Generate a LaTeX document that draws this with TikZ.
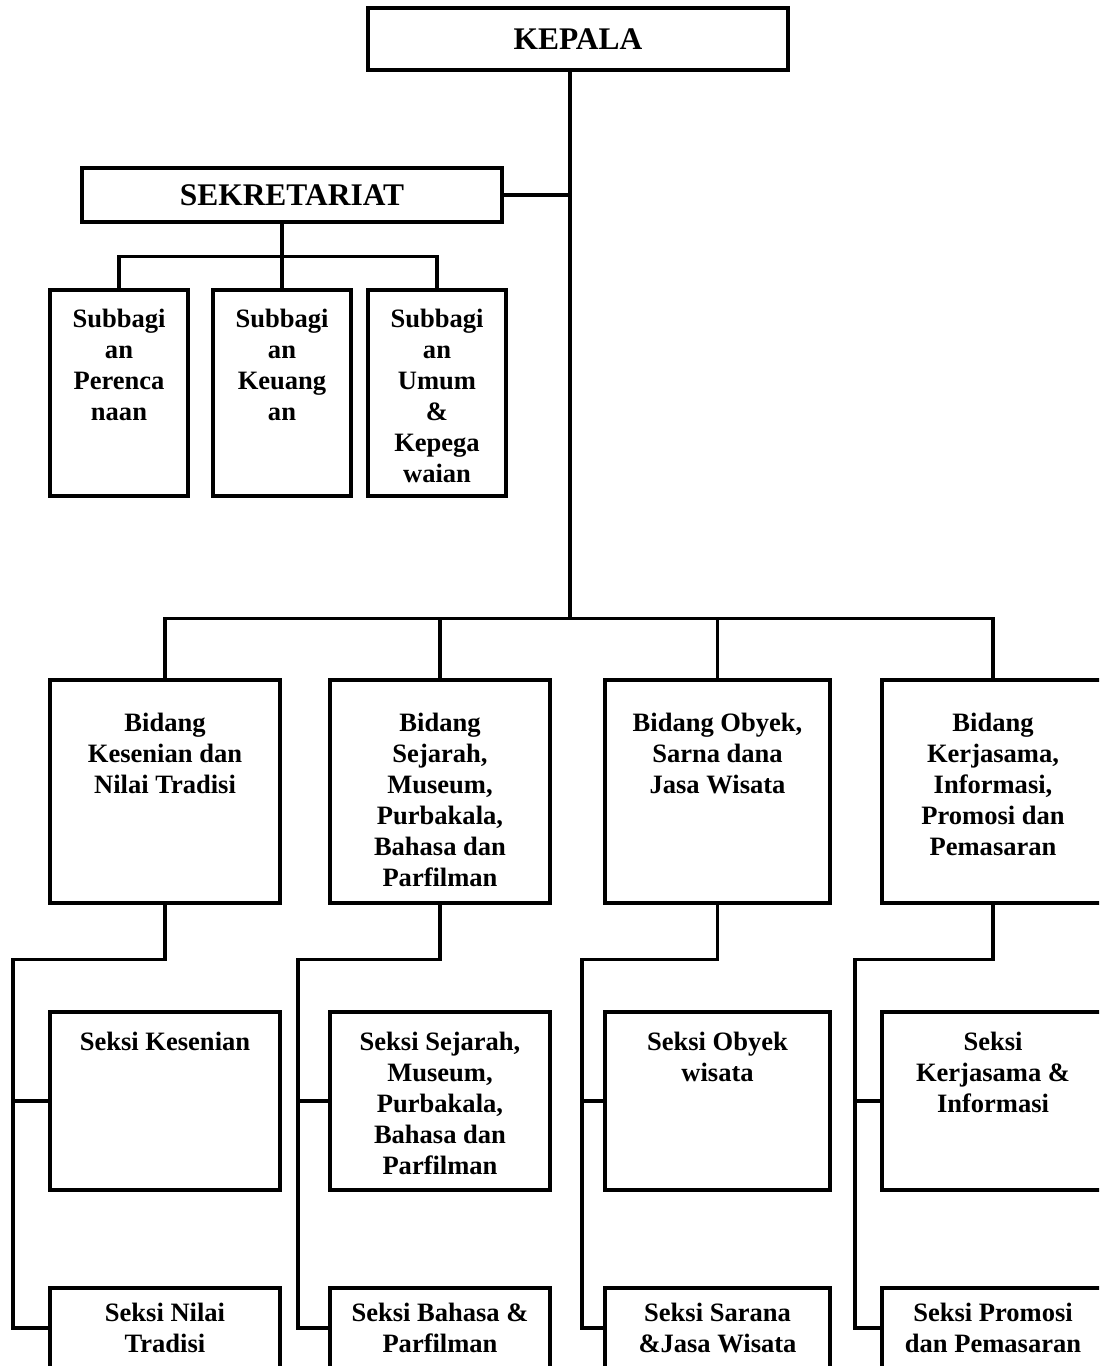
\documentclass[tikz,border=0pt]{standalone}
\usepackage{fontspec}
\setmainfont{Liberation Serif}
\usetikzlibrary{fit}
\begin{document}
\begin{tikzpicture}[x=0.75pt,y=-0.75pt,
  box/.style={draw, line width=2.3pt, inner sep=0pt, rectangle},
  head/.style={font=\bfseries\fontsize{23.6}{28}\selectfont},
  lbl/.style={font=\bfseries\fontsize{19.9}{23.25}\selectfont, align=center, anchor=north, inner sep=0pt},
  wire/.style={line width=2.3pt, line join=miter}]
\useasboundingbox (0,0) rectangle (1099,1366);
\clip (0,0) rectangle (1099,1366);

% top level
\node[box, fit={(368,8) (788,70)}] (kepala) {};
\node[head] (kepalaT) at (kepala.center) {KEPALA};
\node[box, fit={(82,168) (502,222)}] (sekre) {};
\node[head] (sekreT) at (sekre.center) {SEKRETARIAT};
\coordinate (trunk) at (570,620);

% secretariat sub-units
\node[box, fit={(50,290) (188,496)}] (sub1) {};
\node[box, fit={(213,290) (351,496)}] (sub2) {};
\node[box, fit={(368,290) (506,496)}] (sub3) {};
\node[lbl] (sub1T) at (sub1.north |- 0,309) {Subbagi\\an\\Perenca\\naan};
\node[lbl] (sub2T) at (sub2.north |- 0,309) {Subbagi\\an\\Keuang\\an};
\node[lbl] (sub3T) at (sub3.north |- 0,309) {Subbagi\\an\\Umum\\\&\\Kepega\\waian};

% fields
\node[box, fit={(50,680) (280,903)}] (bid1) {};
\node[box, fit={(330,680) (550,903)}] (bid2) {};
\node[box, fit={(605,680) (830,903)}] (bid3) {};
\node[box, fit={(882,680) (1104,903)}] (bid4) {};
\node[lbl] (bid1T) at (bid1.north |- 0,713) {Bidang\\Kesenian dan\\Nilai Tradisi};
\node[lbl] (bid2T) at (bid2.north |- 0,713) {Bidang\\Sejarah,\\Museum,\\Purbakala,\\Bahasa dan\\Parfilman};
\node[lbl] (bid3T) at (bid3.north |- 0,713) {Bidang Obyek,\\Sarna dana\\Jasa Wisata};
\node[lbl] (bid4T) at (bid4.north |- 0,713) {Bidang\\Kerjasama,\\Informasi,\\Promosi dan\\Pemasaran};

% sections
\node[box, fit={(50,1012) (280,1190)}] (sek1a) {};
\node[box, fit={(330,1012) (550,1190)}] (sek2a) {};
\node[box, fit={(605,1012) (830,1190)}] (sek3a) {};
\node[box, fit={(882,1012) (1104,1190)}] (sek4a) {};
\node[lbl] (sek1aT) at (sek1a.north |- 0,1032) {Seksi Kesenian};
\node[lbl] (sek2aT) at (sek2a.north |- 0,1032) {Seksi Sejarah,\\Museum,\\Purbakala,\\Bahasa dan\\Parfilman};
\node[lbl] (sek3aT) at (sek3a.north |- 0,1032) {Seksi Obyek\\wisata};
\node[lbl] (sek4aT) at (sek4a.north |- 0,1032) {Seksi\\Kerjasama \&\\Informasi};

\node[box, fit={(50,1288) (280,1368)}] (sek1b) {};
\node[box, fit={(330,1288) (550,1368)}] (sek2b) {};
\node[box, fit={(605,1288) (830,1368)}] (sek3b) {};
\node[box, fit={(882,1288) (1104,1368)}] (sek4b) {};
\node[lbl] (sek1bT) at (sek1b.north |- 0,1303) {Seksi Nilai\\Tradisi};
\node[lbl] (sek2bT) at (sek2b.north |- 0,1303) {Seksi Bahasa \&\\Parfilman};
\node[lbl] (sek3bT) at (sek3b.north |- 0,1303) {Seksi Sarana\\\&Jasa Wisata};
\node[lbl] (sek4bT) at (sek4b.north |- 0,1303) {Seksi Promosi\\dan Pemasaran};

% rails on the left of each section column
\coordinate (rail1) at (13,1328);
\coordinate (rail2) at (298,1328);
\coordinate (rail3) at (582,1328);
\coordinate (rail4) at (855,1328);

% connectors
\draw[wire] (kepala.south -| trunk) -- (trunk);
\draw[wire] (sekre.east) -- (sekre.east -| trunk);
\draw[wire] (sekre.south -| sub2.north) -- (sub2.north);
\draw[wire] (sub1.north) -- ++(0,-32) -| (sub3.north);
\draw[wire] (bid1.north) -- ++(0,-60) -| (bid4.north);
\draw[wire] (bid2.north) -- ++(0,-60);
\draw[wire] (bid3.north) -- ++(0,-60);

\foreach \i in {1,2,3,4}{
  \draw[wire] (bid\i.south) -- ++(0,55) -| (rail\i) -- (sek\i b.west);
  \draw[wire] (sek\i a.west) -- (sek\i a.west -| rail\i);
}
\end{tikzpicture}
\end{document}
